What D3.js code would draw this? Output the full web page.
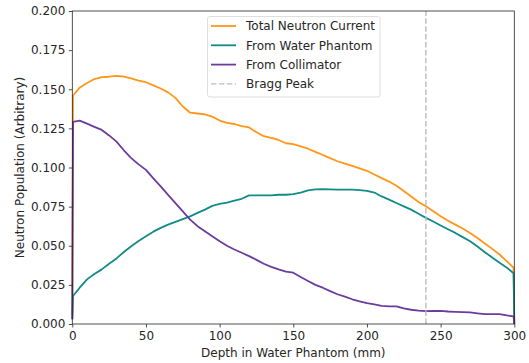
<!DOCTYPE html>
<html>
<head>
<meta charset="utf-8">
<script src="https://cdn.jsdelivr.net/npm/d3@7"></script>
<style>
  html, body { margin: 0; padding: 0; background: #fff; }
  svg { display: block; font-family: "DejaVu Sans", sans-serif; }
</style>
</head>
<body>
<svg id="chart" width="529" height="363"></svg>
<script>
// ---- data ----
const depth = [0,0.5,5,10,15,20,25,30,35,40,45,50,55,60,65,70,75,80,85,90,95,100,105,110,115,120,125,130,135,140,145,150,155,160,165,170,175,180,185,190,195,200,205,210,215,220,225,230,235,240,245,250,255,260,265,270,275,280,285,290,295,299.5,300];
const totalCurrent = [0.006,0.146,0.151,0.154,0.1565,0.1578,0.158,0.1585,0.158,0.157,0.1555,0.1545,0.1525,0.1505,0.148,0.1445,0.139,0.135,0.1345,0.134,0.1325,0.130,0.1285,0.1278,0.1265,0.1256,0.1225,0.120,0.119,0.1176,0.1155,0.115,0.1135,0.112,0.110,0.108,0.106,0.104,0.1025,0.101,0.0995,0.0979,0.0955,0.0932,0.091,0.0883,0.085,0.0815,0.078,0.0752,0.072,0.0688,0.066,0.0635,0.061,0.0582,0.055,0.0514,0.048,0.0444,0.040,0.036,0.0];
const fromWater = [0.003,0.0179,0.0232,0.0285,0.032,0.0349,0.0385,0.0419,0.046,0.0497,0.053,0.0561,0.059,0.0614,0.0635,0.0652,0.067,0.0688,0.071,0.0731,0.0755,0.0767,0.0775,0.0788,0.080,0.0822,0.0822,0.0822,0.0822,0.0826,0.0826,0.083,0.084,0.0854,0.086,0.0862,0.086,0.0858,0.0858,0.0858,0.0855,0.0851,0.084,0.0815,0.0795,0.0773,0.0752,0.0731,0.0705,0.0678,0.0655,0.0629,0.0605,0.0582,0.0555,0.0529,0.0495,0.0459,0.0425,0.0391,0.036,0.0324,0.0];
const fromCollimator = [0.003,0.1292,0.130,0.128,0.126,0.124,0.1205,0.1165,0.111,0.106,0.102,0.0985,0.093,0.0879,0.0825,0.0773,0.072,0.0667,0.0625,0.0593,0.056,0.0529,0.050,0.0476,0.0455,0.0434,0.041,0.0385,0.0365,0.0349,0.0335,0.0328,0.030,0.0275,0.025,0.0232,0.021,0.019,0.0175,0.0158,0.0145,0.0133,0.0125,0.0116,0.0112,0.0112,0.010,0.0091,0.0085,0.0082,0.0083,0.0084,0.008,0.0078,0.0076,0.0074,0.0068,0.0063,0.0063,0.0063,0.0055,0.0049,0.0];
const seriesNames = ["Total Neutron Current","From Water Phantom","From Collimator"];
const seriesColors = ["#ff9619","#128b88","#6b3c9e"];
const braggPeak = 240;
const xTicks = [0,50,100,150,200,250,300];
const yTicks = [0,0.025,0.05,0.075,0.1,0.125,0.15,0.175,0.2];

// ---- layout ----
const svg = d3.select("#chart");
const m = {left: 72.3, right: 514.3, top: 11, bottom: 324};
const x = d3.scaleLinear().domain([0,300]).range([m.left, m.right]);
const y = d3.scaleLinear().domain([0,0.2]).range([m.bottom, m.top]);

const allSeries = [totalCurrent, fromWater, fromCollimator];

// lines
const line = d3.line().x((d,i) => x(depth[i])).y(d => y(d));
allSeries.forEach((s, k) => {
  svg.append("path").datum(s)
    .attr("fill","none")
    .attr("stroke", seriesColors[k])
    .attr("stroke-width", 1.8)
    .attr("stroke-linejoin","round")
    .attr("d", line);
});

// bragg peak
svg.append("line")
  .attr("x1", x(braggPeak)).attr("x2", x(braggPeak))
  .attr("y1", y(0)).attr("y2", y(0.2))
  .attr("stroke","#bdbdbd").attr("stroke-width",1.4)
  .attr("stroke-dasharray","5.5,2.4");

// axes
const fs = "12px";
const xAxis = d3.axisBottom(x).tickValues(xTicks).tickFormat(d3.format("d")).tickSizeInner(3.5).tickSizeOuter(0).tickPadding(3.5);
const yAxis = d3.axisLeft(y).tickValues(yTicks).tickFormat(d3.format(".3f")).tickSizeInner(3.5).tickSizeOuter(0).tickPadding(3.5);
const gx = svg.append("g").attr("transform", `translate(0,${m.bottom})`).call(xAxis);
const gy = svg.append("g").attr("transform", `translate(${m.left},0)`).call(yAxis);
[gx, gy].forEach(g => {
  g.select(".domain").remove();
  g.selectAll("line").attr("stroke","#262626").attr("stroke-width",0.8);
  g.selectAll("text").attr("fill","#262626").style("font-size", fs).style("font-family","DejaVu Sans");
});

// frame
svg.append("rect")
  .attr("x", m.left).attr("y", m.top)
  .attr("width", m.right - m.left).attr("height", m.bottom - m.top)
  .attr("fill","none").attr("stroke","#262626").attr("stroke-width",0.8);

// axis labels
svg.append("text")
  .attr("x", (m.left + m.right)/2).attr("y", 357)
  .attr("text-anchor","middle").attr("fill","#262626")
  .style("font-size", fs).text("Depth in Water Phantom (mm)");
svg.append("text")
  .attr("transform", `translate(23.5,${(m.top + m.bottom)/2}) rotate(-90)`)
  .attr("text-anchor","middle").attr("fill","#262626")
  .style("font-size", fs).text("Neutron Population (Arbitrary)");

// legend
const lg = svg.append("g");
lg.append("rect")
  .attr("x", 207.5).attr("y", 16.5).attr("width", 172.5).attr("height", 80.5)
  .attr("rx", 2.5).attr("fill","#fff").attr("fill-opacity",0.8)
  .attr("stroke","#d6d6d6").attr("stroke-width",0.8);
const legendItems = seriesNames.map((n,k) => ({name:n, color:seriesColors[k], dash:null}))
  .concat([{name:"Bragg Peak", color:"#bdbdbd", dash:"5.5,2.4"}]);
legendItems.forEach((it, i) => {
  const yy = 26 + i * 19.3;
  lg.append("line").attr("x1", 211).attr("x2", 236).attr("y1", yy).attr("y2", yy)
    .attr("stroke", it.color).attr("stroke-width", it.dash ? 1.4 : 1.8)
    .attr("stroke-dasharray", it.dash);
  lg.append("text").attr("x", 246).attr("y", yy + 4.3)
    .attr("fill","#262626").style("font-size", fs).text(it.name);
});
</script>
</body>
</html>
